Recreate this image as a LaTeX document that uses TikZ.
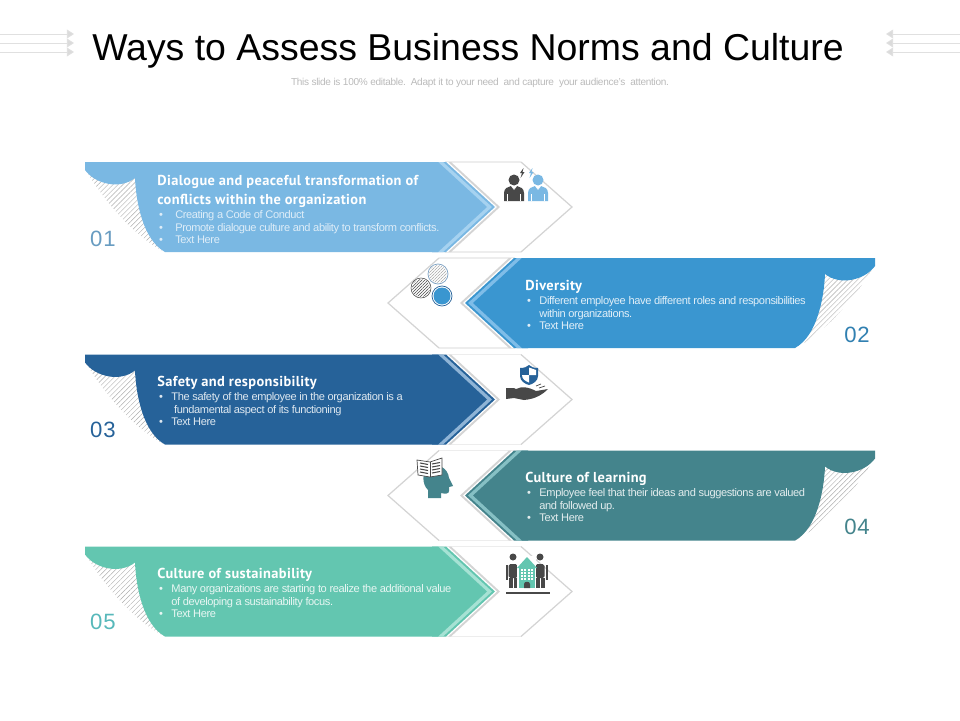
\documentclass[tikz,border=0pt]{standalone}
\usepackage{fontspec}
\usepackage{tikz}
\usetikzlibrary{patterns.meta,arrows.meta}
\setmainfont{Liberation Sans}
\newfontfamily\headfont[LetterSpace=2.5]{PT Sans}
\definecolor{skyband}{HTML}{7AB8E3}
\definecolor{skylight}{HTML}{A6D2F0}
\definecolor{blueband}{HTML}{3A96D0}
\definecolor{bluelight}{HTML}{7FBDE8}
\definecolor{navyband}{HTML}{266299}
\definecolor{navylight}{HTML}{8FB4D6}
\definecolor{tealband}{HTML}{44848C}
\definecolor{teallight}{HTML}{86C0C4}
\definecolor{mintband}{HTML}{63C6B0}
\definecolor{mintlight}{HTML}{A6E2D4}
\definecolor{icondark}{HTML}{484848}
\tikzset{
    headtext/.style={anchor=west, inner sep=0pt, text=white, align=left, font=\headfont\bfseries\fontsize{8.2}{10.8}\selectfont},
    bodytext/.style={anchor=north west, inner sep=0pt, align=left, font=\fontsize{6.3}{7.05}\selectfont\addfontfeature{LetterSpace=-3.5}},
    numtext/.style={inner sep=0pt, font=\fontsize{12.6}{14}\selectfont\addfontfeature{LetterSpace=4}},
    sidearrow/.style={draw=black!12, line width=0.5pt, -{Triangle[length=4pt,width=5pt,fill=black!14]}},
}
% one layered tip of a band
\newcommand{\tipband}[2]{\fill[#2] (#1-49,0) -- (#1,45) -- (#1-49,90) -- (432,90) -- (432,0) -- cycle;}
% band body with curled corner, outline chevron and hatching
\newcommand{\bandshape}[2]{
    \fill[white] (445,0) -- (523,0) -- (572,45) -- (523,90) -- (445,90) -- cycle;
    \draw[black!7, line width=0.7pt] (445,0) -- (521,0);
    \draw[black!7, line width=0.7pt] (445,90) -- (521,90);
    \draw[black!17, line width=0.7pt] (521,0) -- (572,45) -- (521,90);
    \fill[pattern={Lines[angle=45,distance=2pt,line width=0.25pt]}, pattern color=black!32]
        (87,10) .. controls (105,40) and (135,75) .. (165,90) -- (165,40) -- (135,10) -- cycle;
    \tipband{500}{black!17}
    \tipband{497}{white}
    \tipband{495}{#1}
    \tipband{492}{#2}
    \fill[#1] (85,0) -- (438,0) -- (487,45) -- (438,90) -- (165,90)
        .. controls (143,78) and (136,40) .. (135,16)
        .. controls (120,28) and (95,22) .. (85,8) -- cycle;
}
% person with a collar and tie, origin at the head
\newcommand{\personicon}[3]{
    \begin{scope}[shift={(#1,#2)}]
        \fill[#3] (0,0) circle[radius=5.5];
        \fill[#3] (-10,21) -- (-10,13) .. controls (-10,8) and (-6,7) .. (-3,6) -- (3,6)
            .. controls (6,7) and (10,8) .. (10,13) -- (10,21) -- cycle;
        \fill[white] (-3,6) -- (3,6) -- (0,10) -- cycle;
        \fill[#3] (0,8) -- (1.2,17) -- (-1.2,17) -- cycle;
        \draw[white, line width=0.35pt] (-6.5,14) -- (-6.5,21);
        \draw[white, line width=0.35pt] (6.5,14) -- (6.5,21);
    \end{scope}
}
\newcommand{\bolticon}[3]{
    \fill[#3, shift={(#1,#2)}] (1.5,-5) -- (-2,0) -- (0,0) -- (-1.5,5) -- (2.5,-1) -- (0.5,-1) -- cycle;
}
% small standing figure, origin at the head
\newcommand{\figureicon}[2]{
    \begin{scope}[shift={(#1,#2)}]
        \fill[icondark] (0,0) circle[radius=3.5];
        \fill[icondark, rounded corners=1pt] (-4.5,7) rectangle (4.5,21);
        \fill[icondark] (-4.5,21) rectangle (-0.5,31);
        \fill[icondark] (0.5,21) rectangle (4.5,31);
        \fill[icondark] (-7.5,8) rectangle (-5.5,23);
        \fill[icondark] (5.5,8) rectangle (7.5,23);
    \end{scope}
}
\begin{document}
\begin{tikzpicture}[x=0.02cm,y=-0.02cm]
    \useasboundingbox (0,0) rectangle (960,720);

    % Title and side arrows
    \node[inner sep=0pt, font=\fontsize{21.3}{24}\selectfont] (title) at (468,51) {Ways to Assess Business Norms and Culture};
    \node[inner sep=0pt, text=black!27, font=\fontsize{5.72}{7}\selectfont\addfontfeature{LetterSpace=-3}] (subtitle) at (480,82.5)
        {This slide is 100\% editable.\ \ Adapt it to your need\ \ and capture\ \ your audience's\ \ attention.};
    \foreach \y in {34,43,52} {
        \coordinate (leftstart\y) at (0,\y);
        \coordinate (leftend\y) at (74,\y);
        \coordinate (rightstart\y) at (960,\y);
        \coordinate (rightend\y) at (886,\y);
        \draw[sidearrow] (leftstart\y) -- (leftend\y);
        \draw[sidearrow] (rightstart\y) -- (rightend\y);
    }

    % Row 01 - Dialogue
    \begin{scope}[shift={(0,162)}]
        \bandshape{skyband}{skylight}
    \end{scope}
    \node[headtext] (head1) at (157,191.5) {Dialogue and peaceful transformation of\\conflicts within the organization};
    \node[bodytext, text=white!75!skyband] (body1) at (157,210.5)
        {\makebox[10.2pt][l]{\,•}Creating a Code of Conduct\\
         \makebox[10.2pt][l]{\,•}Promote dialogue culture and ability to transform conflicts.\\
         \makebox[10.2pt][l]{\,•}Text Here};
    \node[numtext, text=skyband!85!black] (num1) at (103,239) {01};
    \personicon{514}{180}{icondark}
    \personicon{538}{180}{skyband}
    \bolticon{522}{173}{icondark}
    \bolticon{531}{173}{skyband}

    % Row 02 - Diversity
    \begin{scope}[shift={(960,258)},xscale=-1]
        \bandshape{blueband}{bluelight}
    \end{scope}
    \node[headtext] (head2) at (525,286.5) {Diversity};
    \node[bodytext, text=white!85!blueband] (body2) at (525,296.5)
        {\makebox[8pt][l]{\,•}Different employee have different roles and responsibilities\\
         \makebox[8pt][l]{}within organizations.\\
         \makebox[8pt][l]{\,•}Text Here};
    \node[numtext, text=blueband!85!black] (num2) at (857,335) {02};
    \fill[pattern={Lines[angle=45,distance=1.2pt,line width=0.3pt]}, pattern color=icondark] (421,288) circle[radius=9];
    \draw[icondark, line width=0.3pt] (421,288) circle[radius=10];
    \fill[pattern={Lines[angle=45,distance=1.2pt,line width=0.3pt]}, pattern color=black!35] (438,274) circle[radius=9];
    \draw[navyband!60, line width=0.4pt] (438,274) circle[radius=10];
    \fill[blueband] (442,296) circle[radius=8.5];
    \draw[navyband, line width=0.4pt] (442,296) circle[radius=10];

    % Row 03 - Safety
    \begin{scope}[shift={(0,354.5)}]
        \bandshape{navyband}{navylight}
    \end{scope}
    \node[headtext] (head3) at (157,382.5) {Safety and responsibility};
    \node[bodytext, text=white!85!navyband] (body3) at (157,392.5)
        {\makebox[8pt][l]{\,•}The safety of the employee in the organization is a\\
         \makebox[9.6pt][l]{}fundamental aspect of its functioning\\
         \makebox[8pt][l]{\,•}Text Here};
    \fill[navyband] (520,368) .. controls (524,368) and (527,367) .. (529,365)
        .. controls (531,367) and (534,368) .. (538,368) -- (538,376)
        .. controls (538,381) and (533,384) .. (529,385)
        .. controls (525,384) and (520,381) .. (520,376) -- cycle;
    \fill[white] (529,367.5) -- (536,370) -- (536,375) -- (529,375) -- cycle;
    \fill[white] (522,375) -- (529,375) -- (529,382.5) .. controls (525,381) and (522,379) .. (522,375) -- cycle;
    \fill[icondark] (506,388) -- (514,388) -- (516,389) .. controls (522,386) and (528,387) .. (536,391)
        -- (548,389) .. controls (543,394) and (536,399) .. (524,400) -- (514,398) -- (506,399) -- cycle;
    \draw[icondark, line width=0.4pt] (536,386) -- (541,384);
    \draw[icondark, line width=0.4pt] (539,388) -- (545,386);
    \node[numtext, text=navyband] (num3) at (103,430) {03};

    % Row 04 - Learning
    \begin{scope}[shift={(960,450.5)},xscale=-1]
        \bandshape{tealband}{teallight}
    \end{scope}
    \node[headtext] (head4) at (525,478.5) {Culture of learning};
    \node[bodytext, text=white!85!tealband] (body4) at (525,488.5)
        {\makebox[8pt][l]{\,•}Employee feel that their ideas and suggestions are valued\\
         \makebox[8pt][l]{}and followed up.\\
         \makebox[8pt][l]{\,•}Text Here};
    \node[numtext, text=tealband] (num4) at (857,527) {04};
    \fill[tealband] (428,498) -- (428,490) .. controls (422,484) and (421,472) .. (430,467)
        .. controls (438,463) and (448,468) .. (449,478) -- (453,486) -- (449,487) -- (449,491)
        .. controls (449,494) and (445,494) .. (441,493) -- (441,498) -- cycle;
    \fill[white] (417,460) -- (430,462) -- (442,458) -- (442,475) -- (430,477) -- (418,475) -- cycle;
    \draw[icondark, line width=0.4pt] (417,460) -- (430,462) -- (442,458) -- (442,475) -- (430,477) -- (418,475) -- cycle;
    \draw[icondark, line width=0.4pt] (430,462) -- (430,477);
    \foreach \t in {0,1,2,3} {
        \draw[icondark, line width=0.6pt] (420,463+3*\t) -- (428,464.5+3*\t);
        \draw[icondark, line width=0.6pt] (432,464+3*\t) -- (440,462.5+3*\t);
    }

    % Row 05 - Sustainability
    \begin{scope}[shift={(0,546.5)}]
        \bandshape{mintband}{mintlight}
    \end{scope}
    \node[headtext] (head5) at (157,574.5) {Culture of sustainability};
    \node[bodytext, text=white!85!mintband] (body5) at (157,584.5)
        {\makebox[8pt][l]{\,•}Many organizations are starting to realize the additional value\\
         \makebox[8pt][l]{}of developing a sustainability focus.\\
         \makebox[8pt][l]{\,•}Text Here};
    \node[numtext, text=mintband!70!blueband] (num5) at (103,622) {05};
    \figureicon{513}{557}
    \figureicon{540}{557}
    \fill[white] (517,556) rectangle (536,589);
    \fill[mintband] (519,568) rectangle (535,588);
    \fill[mintband] (517,568) -- (527,557) -- (537,568) -- cycle;
    \foreach \c in {0,1,2,3} {
        \foreach \r in {0,1,2,3} {
            \fill[white] (521+3.3*\c,568.5+3*\r) rectangle ++(2,2);
        }
    }
    \fill[icondark] (524,588) -- (524,584) .. controls (524,581) and (530,581) .. (530,584) -- (530,588) -- cycle;
    \draw[icondark, line width=0.6pt] (506,593) -- (550,593);
\end{tikzpicture}
\end{document}
